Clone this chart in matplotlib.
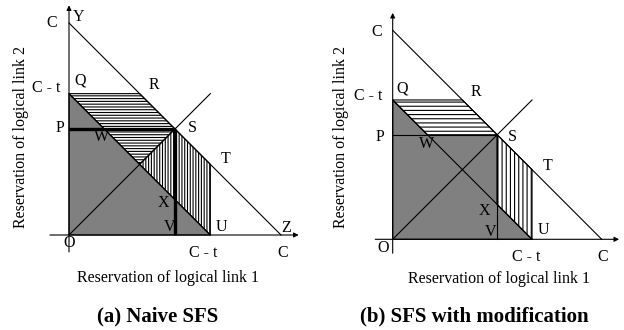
import matplotlib
matplotlib.use("Agg")
import matplotlib.pyplot as plt
from matplotlib.patches import Polygon

# geometry of the diagram (capacity C, threshold t)
C = 3.0
t = 1.0
panel_titles = ["(a) Naive SFS", "(b) SFS with modification"]
xlabel = "Reservation of logical link 1"
ylabel = "Reservation of logical link 2"

W_PX, H_PX = 624, 330
plt.rcParams["font.family"] = ["Liberation Serif", "DejaVu Serif"]
plt.rcParams["hatch.linewidth"] = 0.8

fig = plt.figure(figsize=(W_PX / 100, H_PX / 100), dpi=100)

XL = (-0.6, 3.4)
YL = (-0.5, 3.4)


def make_ax(ox, oy, s):
    # origin (ox, oy) in pixels from top-left, s pixels per unit
    left = ox + XL[0] * s
    top = oy - YL[1] * s
    w = (XL[1] - XL[0]) * s
    h = (YL[1] - YL[0]) * s
    ax = fig.add_axes([left / W_PX, 1 - (top + h) / H_PX, w / W_PX, h / H_PX])
    ax.set_xlim(*XL)
    ax.set_ylim(*YL)
    ax.axis("off")
    return ax


ct = C - t
h = C / 2
Q, R, S, T, U = (0, ct), (t, ct), (h, h), (ct, t), (ct, 0)
W, X, M = (ct - h, h), (h, ct - h), (ct / 2, ct / 2)
P, V = (0, h), (h, 0)

LW = 0.8
FS = 11.5


def arrow(ax, p0, p1):
    ax.annotate("", xy=p1, xytext=p0,
                arrowprops=dict(arrowstyle="-|>", lw=LW, color="k",
                                mutation_scale=7, shrinkA=0, shrinkB=0))


def base(ax, yb, xb):
    ax.plot([0, C], [C, 0], color="k", lw=LW)          # outer diagonal
    ax.plot([0, ct], [ct, 0], color="k", lw=LW)        # inner diagonal
    ax.plot([0, ct], [0, ct], color="k", lw=LW)        # 45 degree line
    arrow(ax, (0, yb), (0, 3.25))
    arrow(ax, (xb, 0), (3.25, 0))


def label(ax, x, y, s, **kw):
    ax.text(x, y, s, ha="center", va="center", fontsize=FS, **kw)


# ---- panel (a)
ax = make_ax(69, 235, 70.67)
ax.add_patch(Polygon([(0, 0), Q, U], closed=True, fc="#808080", ec="k", lw=LW))
ax.add_patch(Polygon([Q, R, S, M], closed=True, fc="white", ec="k", lw=LW, hatch="------"))
ax.add_patch(Polygon([M, S, T, U], closed=True, fc="white", ec="k", lw=LW, hatch="||||||"))
base(ax, -0.24, -0.27)
ax.plot([P[0], S[0]], [P[1], S[1]], color="k", lw=2.4, solid_capstyle="butt")
ax.plot([S[0], V[0]], [S[1], V[1]], color="k", lw=2.4, solid_capstyle="butt")
for (x, y, s) in [(-0.245, 3.0, "C"), (0.13, 3.09, "Y"), (-0.32, 2.08, "C - t"),
                  (0.156, 2.19, "Q"), (1.2, 2.12, "R"), (-0.13, 1.52, "P"),
                  (0.46, 1.39, "W"), (1.745, 1.52, "S"), (2.22, 1.07, "T"),
                  (1.335, 0.45, "X"), (1.42, 0.12, "V"), (2.16, 0.12, "U"),
                  (3.07, 0.095, "Z"), (0.0, -0.12, "O"), (1.9, -0.26, "C - t"),
                  (3.02, -0.26, "C")]:
    label(ax, x, y, s)

# ---- panel (b)
ax = make_ax(392.7, 239.3, 69.67)
ax.add_patch(Polygon([(0, 0), Q, W, S, X, U], closed=True, fc="#808080", ec="k", lw=LW))
ax.add_patch(Polygon([Q, R, S, W], closed=True, fc="white", ec="k", lw=LW, hatch="----"))
ax.add_patch(Polygon([S, T, U, X], closed=True, fc="white", ec="k", lw=LW, hatch="||||"))
base(ax, -0.2, -0.25)
ax.plot([P[0], S[0]], [P[1], S[1]], color="k", lw=LW)
ax.plot([S[0], V[0]], [S[1], V[1]], color="k", lw=LW)
for (x, y, s) in [(-0.23, 2.98, "C"), (-0.35, 2.05, "C - t"), (0.13, 2.17, "Q"),
                  (1.2, 2.12, "R"), (-0.18, 1.47, "P"), (0.49, 1.37, "W"),
                  (1.72, 1.47, "S"), (2.22, 1.05, "T"), (1.32, 0.41, "X"),
                  (1.41, 0.11, "V"), (2.16, 0.13, "U"), (-0.135, -0.13, "O"),
                  (1.92, -0.25, "C - t"), (3.01, -0.25, "C")]:
    label(ax, x, y, s)

# axis labels and panel titles (figure pixel positions)
for (yx, yy), (xx, xy), (tx, ty), title in zip([(21, 137), (340.7, 137)],
                                                [(168.3, 278.3), (499.3, 279.3)],
                                                [(157.5, 316.7), (474, 316.7)],
                                                panel_titles):
    fig.text(yx / W_PX, 1 - yy / H_PX, ylabel, rotation=90, ha="center", va="center", fontsize=FS)
    fig.text(xx / W_PX, 1 - xy / H_PX, xlabel, ha="center", va="center", fontsize=FS)
    fig.text(tx / W_PX, 1 - ty / H_PX, title, ha="center", va="center", fontsize=15,
             fontweight="bold")

fig.savefig("out.png", dpi=100)
